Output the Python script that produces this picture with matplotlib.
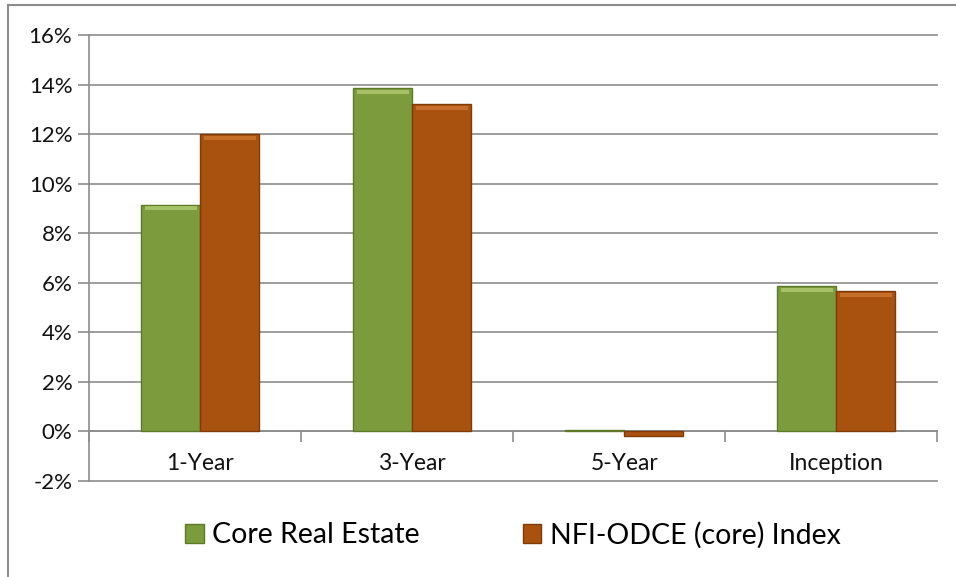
import matplotlib
matplotlib.use("Agg")
import matplotlib.pyplot as plt
import numpy as np
from matplotlib.patches import Patch
from matplotlib.lines import Line2D

plt.rcParams['font.family'] = ['Lato', 'DejaVu Sans']

categories = ["1-Year", "3-Year", "5-Year", "Inception"]
series_names = ["Core Real Estate", "NFI-ODCE (core) Index"]
core_real_estate = [9.15, 13.85, 0.05, 5.85]
nfi_odce = [12.0, 13.2, -0.2, 5.65]
y_ticks = [-2, 0, 2, 4, 6, 8, 10, 12, 14, 16]
y_tick_labels = ["-2%", "0%", "2%", "4%", "6%", "8%", "10%", "12%", "14%", "16%"]

green = "#7C9B3C"
green_edge = "#5C7A28"
green_top = "#B9D27A"
orange = "#A9520F"
orange_edge = "#7E3A07"
orange_top = "#D57A36"
grid_gray = "#8C8C8C"

fig = plt.figure(figsize=(9.56, 5.77), dpi=100)
ax = fig.add_axes([89/956, 1-481/577, (937-89)/956, (481-35)/577])

x = np.arange(len(categories))
w = 0.278
shift = 0.025

def draw(vals, offset, fc, ec, tc):
    ax.bar(x + offset, vals, width=w, color=fc, edgecolor=ec, linewidth=1.0, zorder=3)
    for xi, v in zip(x, vals):
        if abs(v) > 0.5:
            ax.bar(xi + offset, 0.16, bottom=v - 0.22, width=w * 0.88,
                   color=tc, linewidth=0, zorder=4, alpha=0.7)

draw(core_real_estate, shift - w/2, green, green_edge, green_top)
draw(nfi_odce, shift + w/2, orange, orange_edge, orange_top)

ax.set_xlim(-0.5, 3.5)
ax.set_ylim(-2, 16)
ax.set_yticks(y_ticks)
ax.set_yticklabels(y_tick_labels, fontsize=16, color="#111111")
ax.yaxis.grid(True, color=grid_gray, linewidth=1.2, zorder=0)
ax.set_axisbelow(True)
for gl in ax.get_ygridlines():
    gl.set_clip_on(False)

for s in ["top", "right"]:
    ax.spines[s].set_visible(False)
ax.spines["left"].set_color(grid_gray)
ax.spines["left"].set_linewidth(1.2)
ax.spines["bottom"].set_position(("data", 0))
ax.spines["bottom"].set_color(grid_gray)
ax.spines["bottom"].set_linewidth(1.2)
ax.spines["bottom"].set_zorder(2)

ax.tick_params(axis="y", direction="out", length=8, color=grid_gray, width=1.2, pad=4)
ax.set_xticks(x)
ax.set_xticklabels([])
ax.tick_params(axis="x", which="major", length=0)
ax.set_xticks(np.arange(-0.5, 4.0, 1.0), minor=True)
ax.tick_params(axis="x", which="minor", direction="out", length=8, color=grid_gray, width=1.2)

for xi, lab in zip(x, categories):
    ax.text(xi + shift, -1.3, lab, ha="center", va="center", fontsize=16.5, color="#111111")

handles = [Patch(facecolor=green, edgecolor=green_edge), Patch(facecolor=orange, edgecolor=orange_edge)]
fig.legend(handles, series_names, loc="center", bbox_to_anchor=(513/956, 1-535/577), ncol=2,
           frameon=False, fontsize=20.5, handlelength=0.66, handleheight=0.66,
           handletextpad=0.3, columnspacing=3.6)

fig.add_artist(Line2D([8/956, 1.0], [1-5/577, 1-5/577], transform=fig.transFigure, color=grid_gray, linewidth=1.5))
fig.add_artist(Line2D([8/956, 8/956], [0, 1-5/577], transform=fig.transFigure, color=grid_gray, linewidth=1.5))

fig.savefig("out.png", dpi=100, facecolor="white")
